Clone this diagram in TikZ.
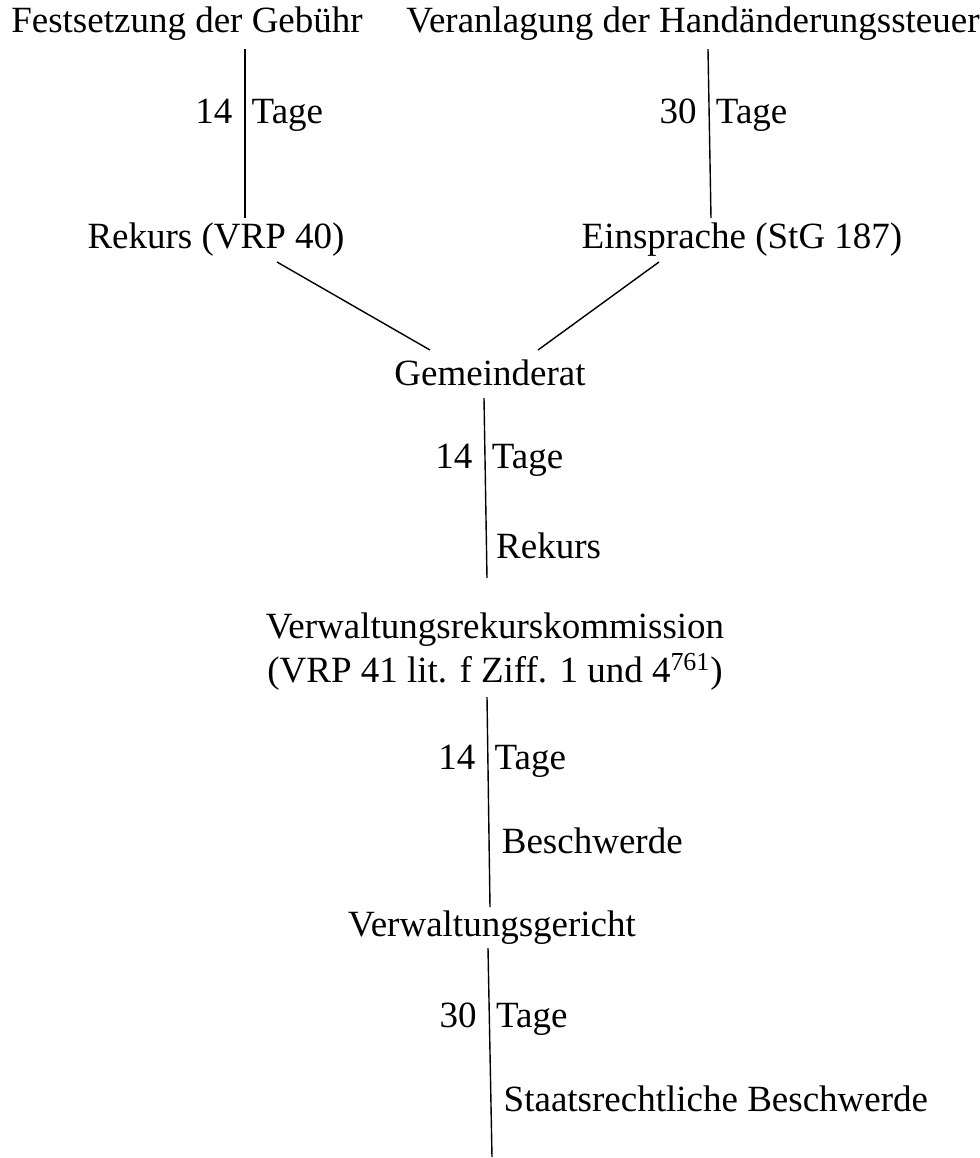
\documentclass[tikz,border=0pt]{standalone}
\usepackage{fontspec}
\setmainfont{Liberation Serif}
\usetikzlibrary{calc, positioning}
\tikzset{
    node distance =1.1 cm and 1.1 cm,% not much used, the stages sit at fixed places
}
\begin{document}
\begin{tikzpicture}
    [x=0.5pt, y=-0.5pt,
    every node/.style={inner sep=2pt, font=\fontsize{18.5}{22}\selectfont},
    weg/.style={line width=0.7pt},
    lbl/.style={text height=0.7em, text depth=0.22em},
    frist/.style={lbl, left=4pt},
    tage/.style={lbl, right=1pt},
    mittel/.style={lbl, right=4pt}]
    \useasboundingbox (0,0) rectangle (980,1158);
    \node (fest) at (187,24) {Festsetzung der Gebühr};
    \node (ver) at (693,24) {Veranlagung der Handänderungssteuer};
    \node (rek) at (216,240) {Rekurs (VRP 40)};
    \node (ein) at (742,240) {Einsprache (StG 187)};
    \node (gem) at (490,373) {Gemeinderat};
    \node (vrk) [align=center] at (495,652) {Verwaltungsrekurskommission\\(VRP 41 lit. f Ziff. 1 und 4\textsuperscript{761})};
    \node (vg) at (492,928) {Verwaltungsgericht};
    \coordinate (ende) at (492,1157);
    \draw[weg] ($(fest)+(58,25)$) -- ($(rek)+(29,-22)$)
        node[pos=.415,frist] {14} node[pos=.415,tage] {Tage};
    \draw[weg] ($(ver)+(15,25)$) -- ($(ein)+(-31,-22)$)
        node[pos=.415,frist] {30} node[pos=.415,tage] {Tage};
    \draw[weg] ($(rek)+(61,22)$) -- ($(gem)+(-60,-23)$);
    \draw[weg] ($(ein)+(-83,22)$) -- ($(gem)+(48,-23)$);
    \draw[weg] ($(gem)+(-6,25)$) -- ($(vrk)+(-8,-74)$)
        node[pos=.365,frist] {14} node[pos=.365,tage] {Tage}
        node[pos=.82,right=2.5pt] {Rekurs};
    \draw[weg] ($(vrk)+(-8,45)$) -- ($(vg)+(-2,-21)$)
        node[pos=.32,frist] {14} node[pos=.32,tage] {Tage}
        node[pos=.72,mittel] {Beschwerde};
    \draw[weg] ($(vg)+(-4,20)$) -- (ende)
        node[pos=.355,frist] {30} node[pos=.355,tage] {Tage}
        node[pos=.76,mittel] {Staatsrechtliche Beschwerde};
\end{tikzpicture}
\end{document}
